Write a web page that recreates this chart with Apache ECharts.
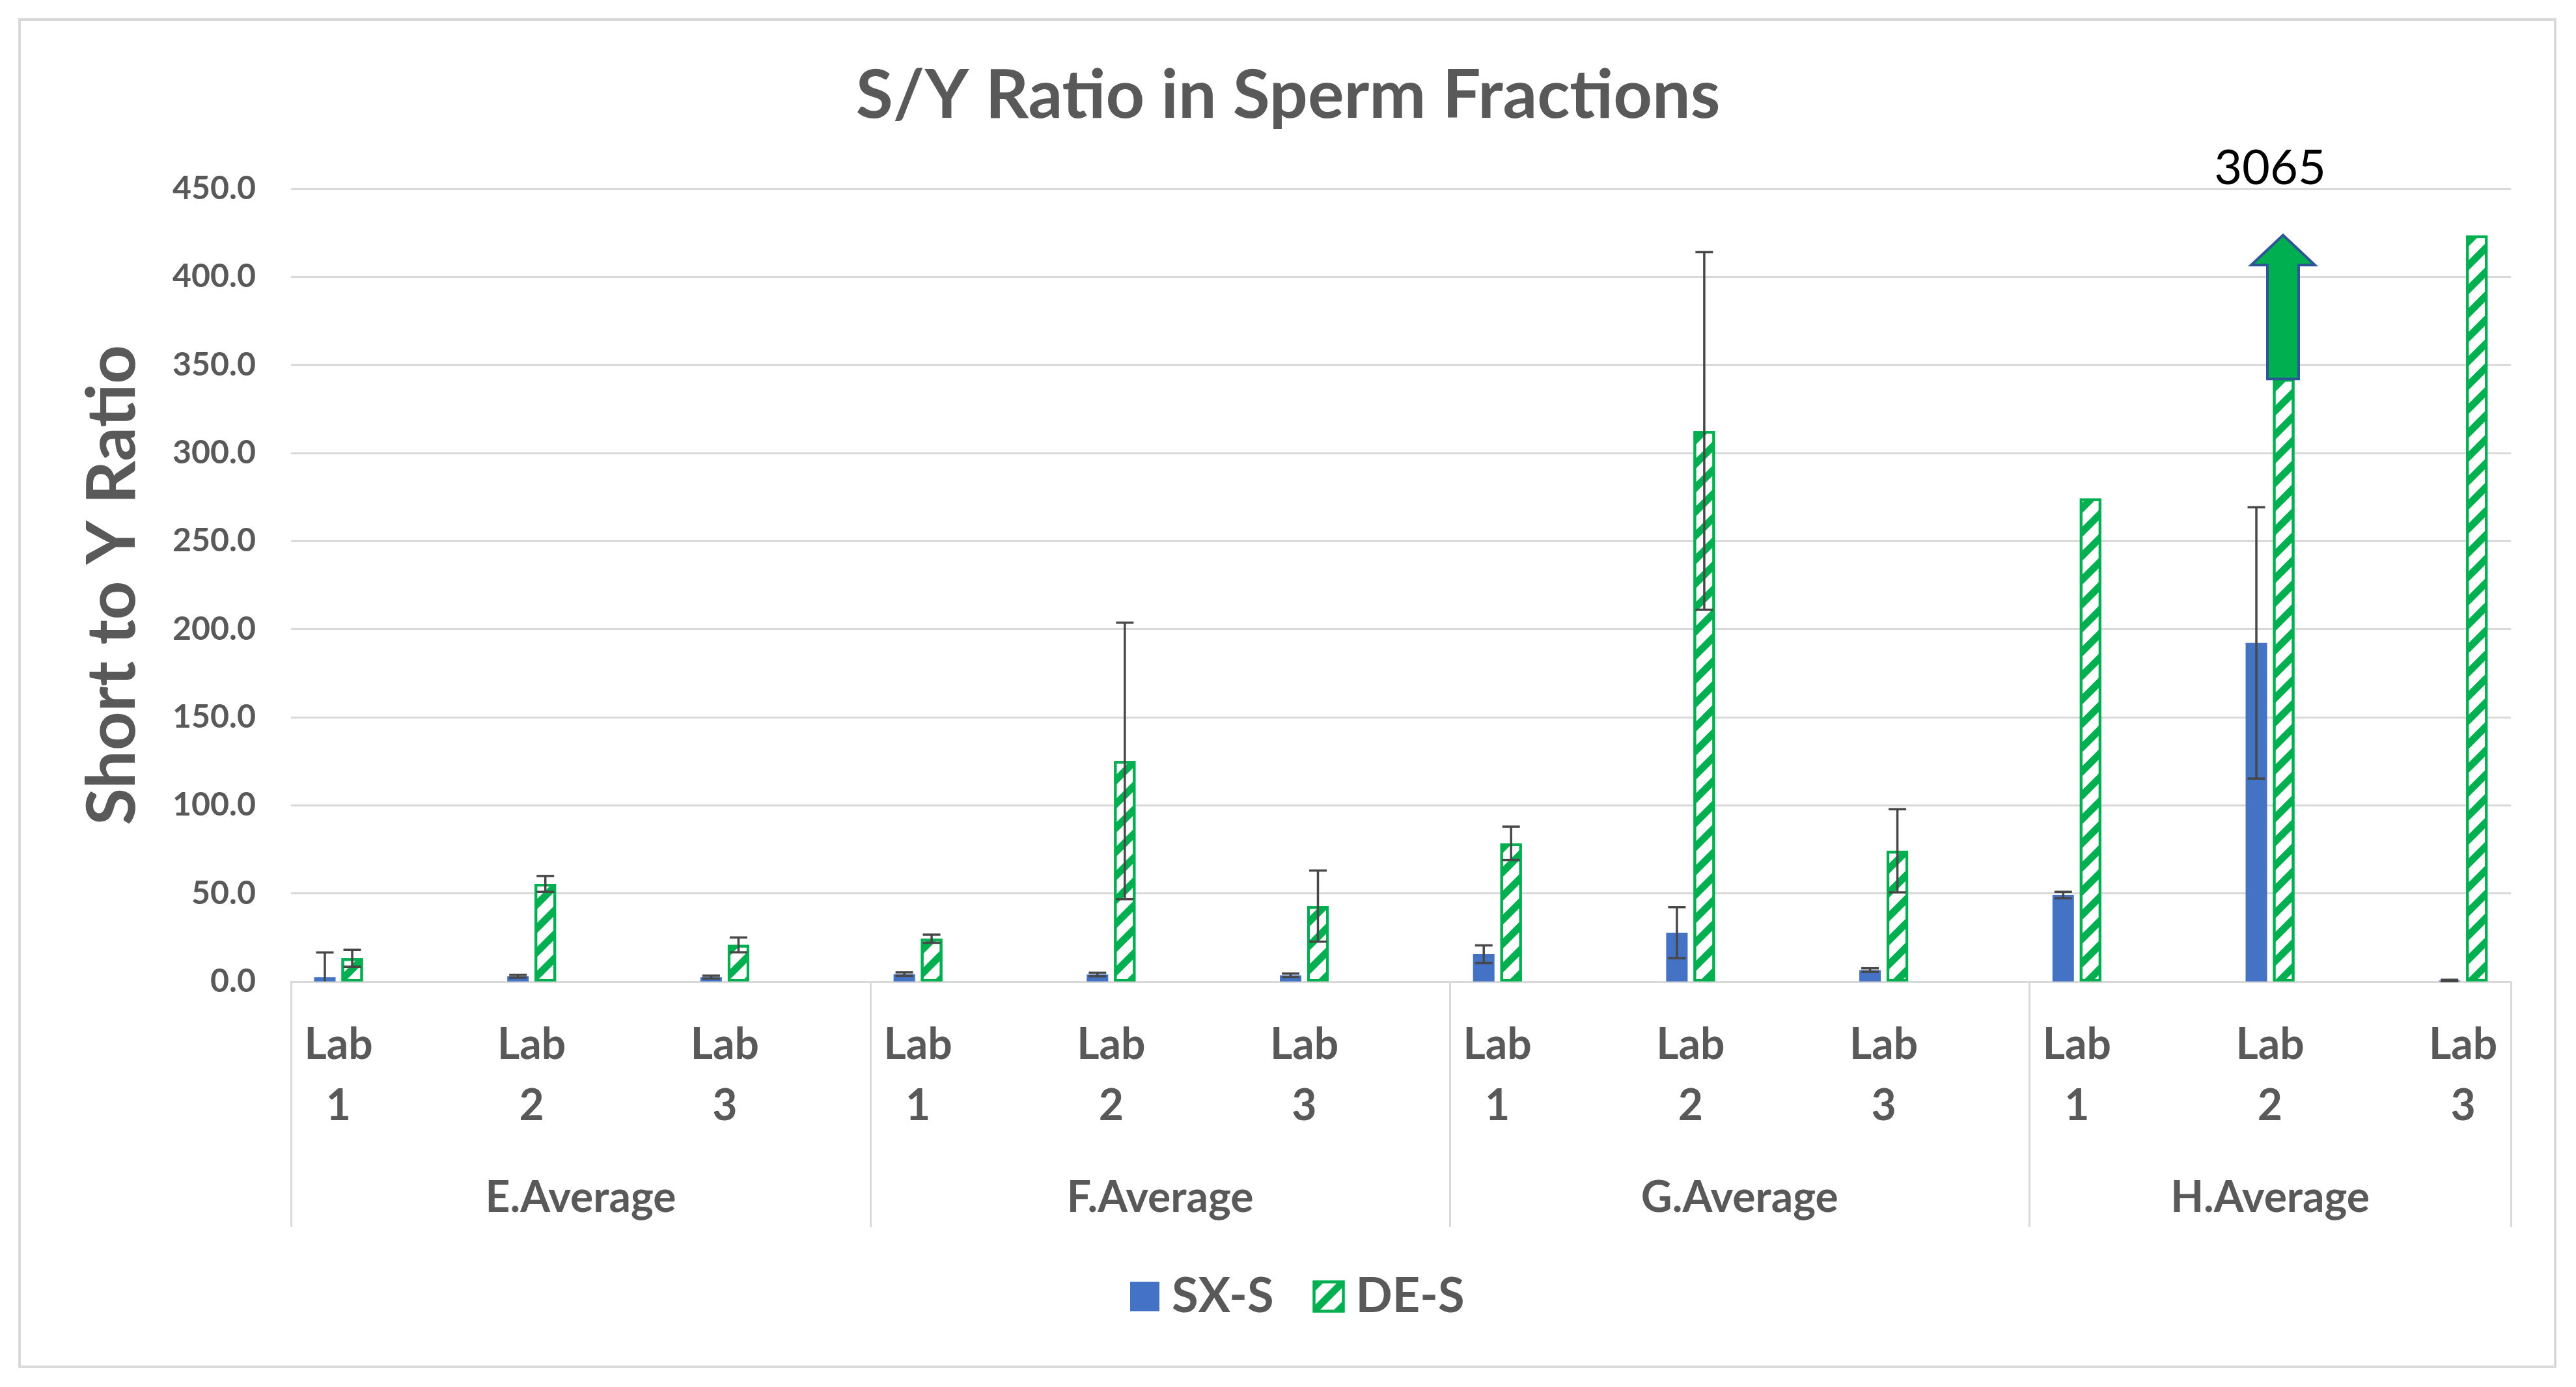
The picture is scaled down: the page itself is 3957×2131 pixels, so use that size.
<!DOCTYPE html>
<html>
<head>
<meta charset="utf-8">
<script src="https://cdn.jsdelivr.net/npm/echarts@6/dist/echarts.min.js"></script>
<style>
html,body{margin:0;padding:0;background:#fff;}
#chart{width:3957px;height:2131px;}
</style>
</head>
<body>
<div id="chart"></div>
<script>
// ---------------- DATA ----------------
const groups = ['E.Average', 'F.Average', 'G.Average', 'H.Average'];
const labs = ['Lab\n1', 'Lab\n2', 'Lab\n3'];
const categories = groups.flatMap(g => labs.map(l => l));
const seriesNames = ['SX-S', 'DE-S'];
const sxValues = [2.5, 3.0, 2.5, 4.2, 4.0, 3.5, 15.5, 27.7, 6.5, 49.1, 192.2, 0.6];
const sxErrors = [14.0, 0.8, 0.8, 1.0, 1.0, 1.0, 5.0, 14.5, 1.0, 1.8, 77.0, 0.4];
const deValues = [13.2, 55.4, 20.8, 24.3, 125.2, 42.8, 78.4, 312.5, 74.2, 274.2, 3065, 423.5];
const deErrors = [4.8, 4.5, 4.2, 2.3, 78.5, 20.2, 9.5, 101.5, 23.6, null, null, null];
const yMin = 0, yMax = 450, yStep = 50;
const breakAt = 342;            // off-scale bar is drawn broken at this value

// ---------------- LAYOUT / STYLE ----------------
const W = 3957, H = 2131;
const plotLeft = 447, plotRight = 3857, plotTop = 290, plotBottom = 1508;
const catW = 296.7;
const barsLeft = 520 - catW / 2;
const nCat = categories.length;
const groupMax = (plotRight - plotLeft) / catW;
const textGray = '#595959';
const gridGray = '#D9D9D9';
const blue = '#4472C4';
const green = '#00B050';
const font = 'Lato';
const barW = 33, barGapPx = 9;
const offs = [-(barW + barGapPx) / 2, (barW + barGapPx) / 2];

const errData = [];
sxValues.forEach((v, i) => { if (sxErrors[i] != null) errData.push([i, 0, v - sxErrors[i], v + sxErrors[i]]); });
deValues.forEach((v, i) => { if (deErrors[i] != null) errData.push([i, 1, v - deErrors[i], v + deErrors[i]]); });

const overflow = [];
deValues.forEach((v, i) => { if (v > yMax) overflow.push([i, breakAt, v]); });

const hatch = {
  symbol: 'rect', symbolSize: 1,
  dashArrayX: [1, 0], dashArrayY: [11, 15],
  rotation: -Math.PI / 4, color: green
};

const chart = echarts.init(document.getElementById('chart'), null, { renderer: 'canvas' });

const option = {
  backgroundColor: '#fff',
  animation: false,
  textStyle: { fontFamily: font },
  title: {
    text: 'S/Y Ratio in Sperm Fractions',
    left: 'center', top: 90,
    textStyle: { fontFamily: font, fontSize: 104, fontWeight: 'bold', color: textGray }
  },
  legend: {
    data: [
      { name: 'SX-S' },
      { name: 'DE-S', itemStyle: { color: '#fff', borderColor: green, borderWidth: 4, decal: hatch } }
    ],
    left: 1731, top: 1950,
    itemWidth: 45, itemHeight: 45, itemGap: 60,
    icon: 'rect',
    textStyle: { fontFamily: font, fontSize: 74, fontWeight: 'bold', color: textGray, padding: [0, 0, 0, 14] }
  },
  graphic: [{
    type: 'rect', z: -10, silent: true,
    shape: { x: 30, y: 30, width: 3895, height: 2070 },
    style: { fill: 'none', stroke: gridGray, lineWidth: 4 }
  }],
  grid: [
    { left: plotLeft, right: W - plotRight, top: plotTop, bottom: H - plotBottom, containLabel: false },
    { left: barsLeft, width: catW * nCat, top: plotTop, bottom: H - plotBottom, containLabel: false }
  ],
  xAxis: [
    {
      type: 'value', gridIndex: 0, min: 0, max: groupMax,
      splitLine: { show: false },
      axisLine: { show: true, lineStyle: { color: gridGray, width: 3 } },
      axisTick: { show: true, customValues: [0, 3, 6, 9, groupMax], length: 377, lineStyle: { color: gridGray, width: 3 } },
      axisLabel: {
        customValues: [1.5, 4.5, 7.5, (9 + groupMax) / 2],
        formatter: v => groups[Math.min(3, Math.floor(v / 3))],
        margin: 300, fontFamily: font, fontSize: 66, fontWeight: 'bold', color: textGray
      }
    },
    {
      type: 'category', gridIndex: 1, data: categories,
      axisLine: { show: false }, axisTick: { show: false },
      axisLabel: { interval: 0, margin: 51, lineHeight: 94, fontFamily: font, fontSize: 66, fontWeight: 'bold', color: textGray }
    }
  ],
  yAxis: [
    {
      type: 'value', gridIndex: 0, min: yMin, max: yMax, interval: yStep,
      name: 'Short to Y Ratio', nameLocation: 'middle', nameGap: 222,
      nameTextStyle: { fontFamily: font, fontSize: 104, fontWeight: 'bold', color: textGray },
      axisLine: { show: false }, axisTick: { show: false },
      splitLine: { show: true, lineStyle: { color: gridGray, width: 3 } },
      axisLabel: { formatter: v => v.toFixed(1), margin: 54, fontFamily: font, fontSize: 50, fontWeight: 'bold', color: textGray }
    },
    { type: 'value', gridIndex: 1, min: yMin, max: yMax, interval: yStep, show: false, splitLine: { show: false } }
  ],
  series: [
    {
      name: 'SX-S', type: 'bar', xAxisIndex: 1, yAxisIndex: 1,
      data: sxValues, barWidth: barW, barGap: (barGapPx / barW * 100) + '%',
      itemStyle: { color: blue }, z: 3
    },
    {
      name: 'DE-S', type: 'bar', xAxisIndex: 1, yAxisIndex: 1,
      data: deValues.map(v => (v > yMax ? breakAt : v)), barWidth: barW,
      itemStyle: { color: '#fff', borderColor: green, borderWidth: 4, decal: hatch }, z: 3
    },
    {
      name: 'errors', type: 'custom', xAxisIndex: 1, yAxisIndex: 1, z: 5,
      data: errData, silent: true,
      renderItem: (params, api) => {
        const i = api.value(0), s = api.value(1);
        const lo = Math.max(api.value(2), yMin), hi = api.value(3);
        const x = api.coord([i, 0])[0] + offs[s];
        const yHi = api.coord([i, hi])[1];
        const yLo = api.coord([i, lo])[1];
        const st = { stroke: '#474747', lineWidth: 3.5 };
        const kids = [
          { type: 'line', shape: { x1: x, y1: yHi, x2: x, y2: yLo }, style: st },
          { type: 'line', shape: { x1: x - 13.5, y1: yHi, x2: x + 13.5, y2: yHi }, style: st }
        ];
        if (api.value(2) >= yMin) kids.push({ type: 'line', shape: { x1: x - 13.5, y1: yLo, x2: x + 13.5, y2: yLo }, style: st });
        return { type: 'group', children: kids };
      }
    },
    {
      name: 'overflow', type: 'custom', xAxisIndex: 1, yAxisIndex: 1, z: 6,
      data: overflow, silent: true,
      renderItem: (params, api) => {
        const i = api.value(0);
        const base = api.coord([i, api.value(1)]);
        const cx = base[0] + offs[1] - 1;
        const by = base[1];
        const tipY = by - 221, headY = tipY + 46;
        const sw = 24, hw = 49;
        return {
          type: 'group',
          children: [
            {
              type: 'polygon',
              shape: { points: [[cx - sw, by], [cx - sw, headY], [cx - hw, headY], [cx, tipY], [cx + hw, headY], [cx + sw, headY], [cx + sw, by]] },
              style: { fill: green, stroke: '#2F5597', lineWidth: 4 }
            },
            {
              type: 'text',
              style: { text: String(api.value(2)), x: base[0], y: tipY - 102, align: 'center', verticalAlign: 'middle', fontFamily: font, fontSize: 74, fill: '#000' }
            }
          ]
        };
      }
    }
  ]
};
chart.setOption(option);
</script>
</body>
</html>
